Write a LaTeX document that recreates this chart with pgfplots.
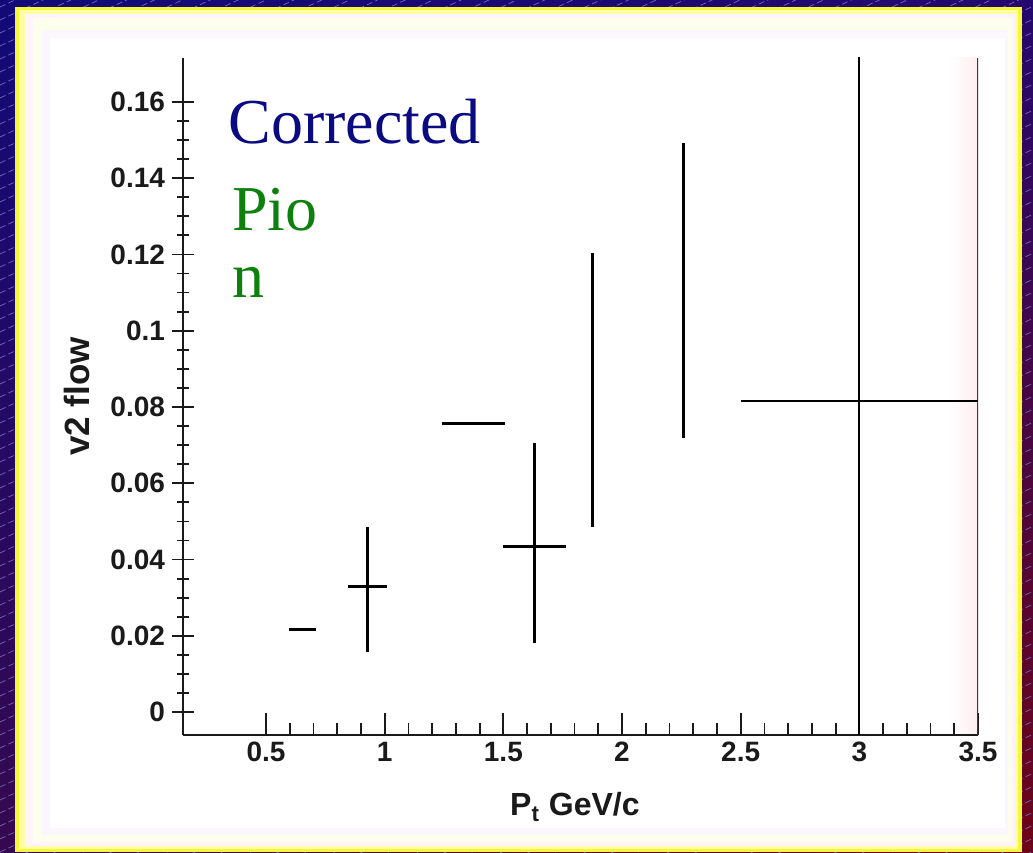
\documentclass[border=0pt]{standalone}
\usepackage{fontspec}
\setmainfont{Liberation Serif}
\newfontfamily\lsans{Liberation Sans}
\usepackage{pgfplots}
\usepackage{pgfplotstable}
\usetikzlibrary{shadings}
\pgfplotsset{compat=1.18}

\definecolor{bgTL}{HTML}{120A78}
\definecolor{bgTR}{HTML}{24086E}
\definecolor{bgBL}{HTML}{36094F}
\definecolor{bgBR}{HTML}{6E0418}
\definecolor{hatch}{HTML}{7468B8}
\definecolor{frA}{HTML}{F6F63A}
\definecolor{frB}{HTML}{FFFFA6}
\definecolor{frC}{HTML}{FFF4FC}
\definecolor{frD}{HTML}{FDFEEC}
\definecolor{frE}{HTML}{FAF7FF}
\definecolor{spineR}{HTML}{4A3038}
\definecolor{glowR}{HTML}{FFEDF1}
\definecolor{txtNavy}{HTML}{0A0A82}
\definecolor{txtGreen}{HTML}{0E800E}
\definecolor{ink}{HTML}{1A1A1A}

% v2 of pions versus pT: centre, x errors (minus/plus), y errors (minus/plus)
\pgfplotstableread{
x     y       exm    exp    eym     eyp
0.652 0.0216  0.057  0.057  0       0
0.927 0.0329  0.082  0.082  0.0171  0.0157
1.375 0.0756  0.133  0.133  0       0
1.632 0.0433  0.133  0.132  0.0253  0.0273
1.874 0.0845  0      0      0.0359  0.0359
2.257 0.1105  0      0      0.0386  0.0386
}\flowdata

% last, wide bin: its vertical error runs past the frame
\pgfplotstableread{
x     y       exm    exp    eym     eyp
3.0   0.0816  0.5    0.5    0.25    0.25
}\flowlast

\begin{document}
\begin{tikzpicture}
\useasboundingbox (0,0) rectangle (516.5pt,426pt);

% slide background with hatching
\shade[upper left=bgTL, upper right=bgTR, lower left=bgBL, lower right=bgBR]
  (0,0) rectangle (516.5pt,426pt);
\begin{scope}
  \clip (0,0) rectangle (516.5pt,426pt);
  \foreach \k in {-42,...,68} {
    \draw[hatch, line width=0.35pt, dash pattern=on 3pt off 1.6pt]
      (0pt,{\k*6.5pt}) -- ++(25:620pt);
  }
\end{scope}

% pale frame around the chart (pixel-like units, origin top left)
\begin{scope}[shift={(0pt,426pt)}, x=0.5pt, y=-0.5pt]
  \fill[frA] (15,7)  rectangle (1022,852);
  \fill[frB] (19,10) rectangle (1018,849);
  \fill[frC] (25,14) rectangle (1015,846);
  \fill[frD] (33,18) rectangle (1012,842);
  \fill[frE] (42,30) rectangle (1008,835);
  \fill[white] (50,38) rectangle (1005,828);
  \shade[left color=white, right color=glowR] (950,58) rectangle (977,735);
\end{scope}

\begin{axis}[
  at={(91.5pt,58.5pt)}, anchor=south west,
  scale only axis, width=397.5pt, height=338.5pt,
  xmin=0.15, xmax=3.5, ymin=-0.006, ymax=0.1715,
  axis lines*=left,
  axis line style={-, line width=1.3pt, ink},
  xtick={0.5,1,1.5,2,2.5,3,3.5},
  xticklabels={0.5,1,1.5,2,2.5,3,3.5},
  ytick={0,0.02,0.04,0.06,0.08,0.1,0.12,0.14,0.16},
  yticklabels={0,0.02,0.04,0.06,0.08,0.1,0.12,0.14,0.16},
  minor x tick num=4,
  minor y tick num=3,
  tick align=inside,
  ytick align=center,
  major tick length=11pt,
  minor tick length=6pt,
  tick style={ink, line width=0.9pt},
  /pgf/number format/assume math mode=true,
  tick label style={font=\lsans\bfseries\fontsize{14}{14}\selectfont, text=ink},
  yticklabel style={xshift=0pt},
  xlabel={P\textsubscript{t} GeV/c},
  ylabel={v2 flow},
  label style={font=\lsans\bfseries\fontsize{16}{16}\selectfont, text=ink},
  xlabel style={at={(axis description cs:0.493,-0.1063)}, anchor=center},
  ylabel style={at={(axis description cs:-0.1333,0.5)}, anchor=center,
                font=\lsans\bfseries\fontsize{17.5}{17.5}\selectfont},
]
  \draw[spineR, line width=1.3pt] (rel axis cs:1,0) -- (rel axis cs:1,1);

  \addplot[draw=none, mark=none,
    error bars/.cd, x dir=both, y dir=both, x explicit, y explicit,
    error mark=none, error bar style={draw=black, line width=1.5pt}]
    table[x=x, y=y, x error plus=exp, x error minus=exm,
          y error plus=eyp, y error minus=eym] {\flowdata};

  \addplot[draw=none, mark=none,
    error bars/.cd, x dir=both, y dir=both, x explicit, y explicit,
    error mark=none, error bar style={draw=black, line width=1.1pt}]
    table[x=x, y=y, x error plus=exp, x error minus=exm,
          y error plus=eyp, y error minus=eym] {\flowlast};

  \node[anchor=base west, inner sep=0pt, text=txtNavy,
        font=\fontsize{32}{32}\selectfont] at (axis cs:0.34,0.1492) {Corrected};
  \node[anchor=base west, inner sep=0pt, text=txtGreen,
        font=\fontsize{32}{32}\selectfont] at (axis cs:0.355,0.1264) {Pio};
  \node[anchor=base west, inner sep=0pt, text=txtGreen,
        font=\fontsize{32}{32}\selectfont] at (axis cs:0.355,0.1086) {n};
\end{axis}
\end{tikzpicture}
\end{document}
